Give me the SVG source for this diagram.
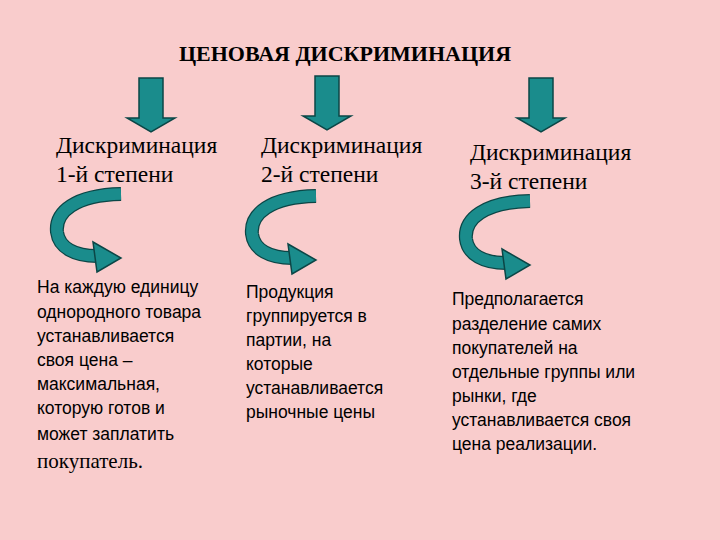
<svg xmlns="http://www.w3.org/2000/svg" width="720" height="540" viewBox="0 0 720 540">
<style>
.h{font-family:"Liberation Serif",serif;font-size:23.5px;fill:#000}
.t{font-family:"Liberation Sans",sans-serif;font-size:17.5px;fill:#000}
.d{fill:#1a8c8c;stroke:#0b4646;stroke-width:1.5}
.c1{fill:none;stroke:#0b4646;stroke-width:14}
.c2{fill:none;stroke:#1a8c8c;stroke-width:11.5}
</style>
<defs>
<g id="down"><polygon class="d" points="-12,0 12,0 12,40 24,40 0,54 -24,40 -12,40"/></g>
<g id="curve">
<path class="c1" d="M68,6 C22,7 2,24 4,44 C6,60 22,68 44,68"/>
<path class="c2" d="M68,6 C22,7 2,24 4,44 C6,60 22,68 44,68"/>
<polygon class="d" points="40,54 68,70 44,84"/>
</g>
</defs>
<rect width="720" height="540" fill="#f9cccc"/>
<g id="title"><text x="345" y="61" text-anchor="middle" style="font-family:'Liberation Serif',serif;font-size:22px;font-weight:bold">ЦЕНОВАЯ ДИСКРИМИНАЦИЯ</text></g>
<g id="connectors">
<use href="#down" x="151" y="78"/>
<use href="#down" x="327" y="76"/>
<use href="#down" x="541" y="78"/>
<use href="#curve" x="53" y="188"/>
<use href="#curve" x="248" y="190"/>
<use href="#curve" x="462" y="195"/>
</g>
<g id="n1"><text class="h" x="56" y="153">Дискриминация</text><text class="h" x="56" y="182">1-й степени</text></g>
<g id="n2"><text class="h" x="261" y="153">Дискриминация</text><text class="h" x="261" y="182">2-й степени</text></g>
<g id="n3"><text class="h" x="470" y="160">Дискриминация</text><text class="h" x="470" y="189">3-й степени</text></g>
<g id="b1">
<text class="t" x="37" y="293">На каждую единицу</text>
<text class="t" x="37" y="318">однородного товара</text>
<text class="t" x="37" y="342">устанавливается</text>
<text class="t" x="37" y="366">своя цена –</text>
<text class="t" x="37" y="390">максимальная,</text>
<text class="t" x="37" y="414">которую готов и</text>
<text class="t" x="37" y="440">может заплатить</text>
<text x="37" y="468" style="font-family:'Liberation Serif',serif;font-size:21px">покупатель.</text>
</g>
<g id="b2">
<text class="t" x="246" y="298">Продукция</text>
<text class="t" x="246" y="322">группируется в</text>
<text class="t" x="246" y="346">партии, на</text>
<text class="t" x="246" y="370">которые</text>
<text class="t" x="246" y="394">устанавливается</text>
<text class="t" x="246" y="418">рыночные цены</text>
</g>
<g id="b3">
<text class="t" x="452" y="305">Предполагается</text>
<text class="t" x="452" y="330">разделение самих</text>
<text class="t" x="452" y="354">покупателей на</text>
<text class="t" x="452" y="378">отдельные группы или</text>
<text class="t" x="452" y="402">рынки, где</text>
<text class="t" x="452" y="426">устанавливается своя</text>
<text class="t" x="452" y="450">цена реализации.</text>
</g>
</svg>
